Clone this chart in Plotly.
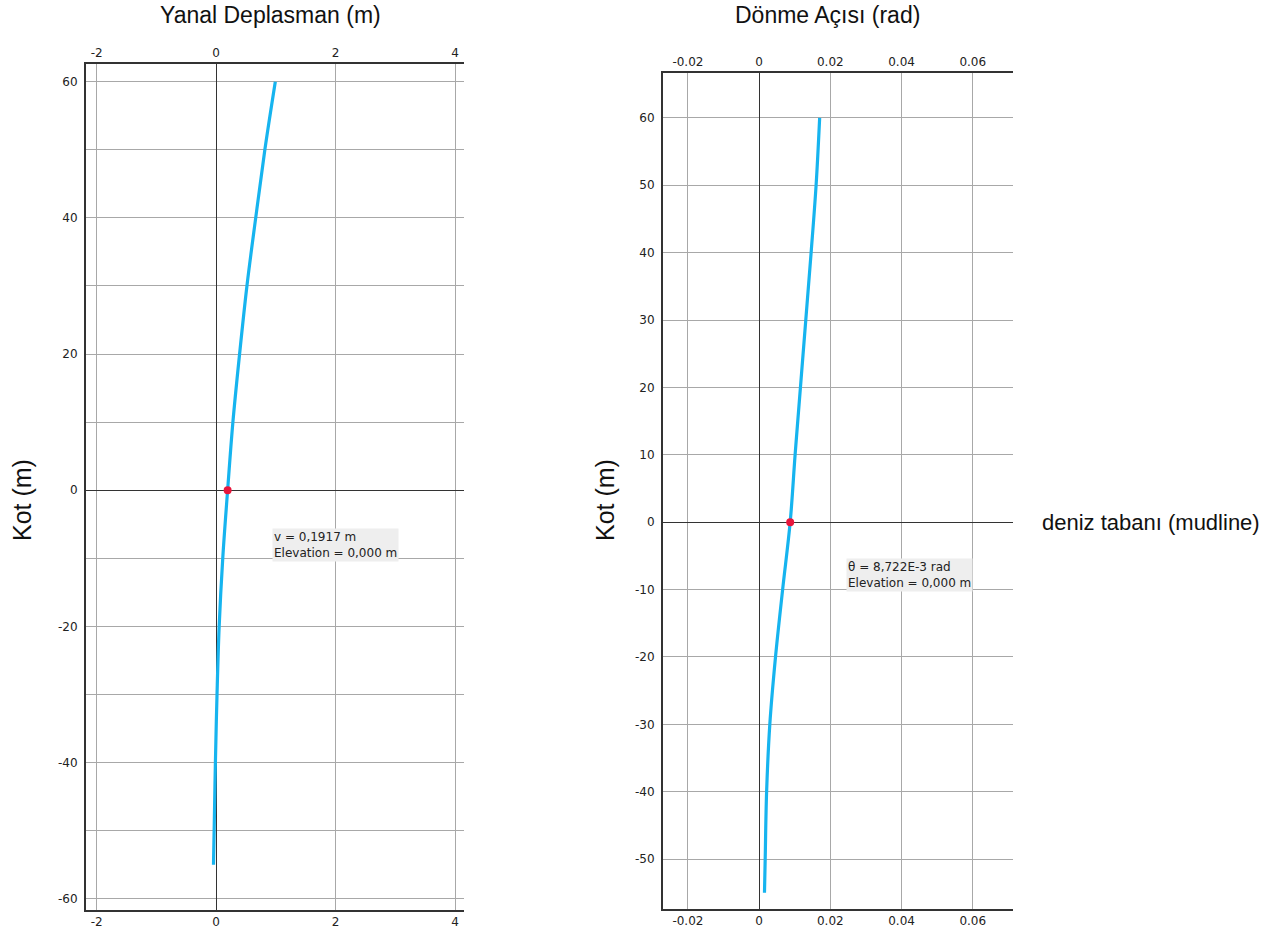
import plotly.graph_objects as go

# ---- data ----
elev_disp = [60, 50, 40, 30, 20, 10, 0, -10, -20, -30, -40, -50, -55]
disp = [0.99, 0.815, 0.662, 0.515, 0.392, 0.28, 0.1917, 0.11, 0.05, 0.014, -0.013, -0.034, -0.045]

elev_rot = [60, 50, 40, 30, 20, 10, 0, -10, -20, -30, -40, -50, -55]
rot = [0.0170, 0.0160, 0.0146, 0.0131, 0.0116, 0.0101, 0.00872, 0.0066, 0.0046, 0.0030, 0.0021, 0.0017, 0.0015]

mud_disp = 0.1917
mud_rot = 0.00872
mud_elev = 0.0

disp_tickvals = [-2, 0, 2, 4]
disp_ticktext = ["-2", "0", "2", "4"]
rot_tickvals = [-0.02, 0, 0.02, 0.04, 0.06]
rot_ticktext = ["-0.02", "0", "0.02", "0.04", "0.06"]
elevL_tickvals = [-60, -50, -40, -30, -20, -10, 0, 10, 20, 30, 40, 50, 60]
elevL_ticktext = ["-60", "", "-40", "", "-20", "", "0", "", "20", "", "40", "", "60"]
elevR_tickvals = [-50, -40, -30, -20, -10, 0, 10, 20, 30, 40, 50, 60]
elevR_ticktext = ["-50", "-40", "-30", "-20", "-10", "0", "10", "20", "30", "40", "50", "60"]

title_left = "Yanal Deplasman (m)"
title_right = "Dönme Açısı (rad)"
ylab = "Kot (m)"
mudline_label = "deniz tabanı (mudline)"
ann_left = "v = 0,1917 m<br>Elevation = 0,000 m"
ann_right = "θ = 8,722E-3 rad<br>Elevation = 0,000 m"

W, H = 1267, 935
LINE = "#16b4ef"
RED = "#e8163c"
GRID = "#a8a8a8"
AXL = "#333333"
TICKF = dict(family="DejaVu Sans, Tahoma, sans-serif", size=12, color="#222")

fig = go.Figure()
fig.add_trace(go.Scatter(x=disp, y=elev_disp, mode="lines", line=dict(color=LINE, width=3.2, shape="spline"),
                         xaxis="x", yaxis="y", showlegend=False))
fig.add_trace(go.Scatter(x=[mud_disp], y=[mud_elev], mode="markers", marker=dict(color=RED, size=8),
                         xaxis="x", yaxis="y", showlegend=False))
fig.add_trace(go.Scatter(x=rot, y=elev_rot, mode="lines", line=dict(color=LINE, width=3.2, shape="spline"),
                         xaxis="x2", yaxis="y2", showlegend=False))
fig.add_trace(go.Scatter(x=[mud_rot], y=[mud_elev], mode="markers", marker=dict(color=RED, size=8),
                         xaxis="x2", yaxis="y2", showlegend=False))

xdomL = [86 / W, 464 / W]
ydomL = [1 - 910 / H, 1 - 64 / H]
xdomR = [663 / W, 1013 / W]
ydomR = [1 - 909 / H, 1 - 72.7 / H]
xrL = [-2.18, 4.15]
yrL = [-61.66, 62.6]
xrR = [-0.027, 0.0713]
yrR = [-57.4, 66.7]

common_x = dict(showgrid=True, gridcolor=GRID, gridwidth=1, zeroline=True, zerolinecolor=AXL, zerolinewidth=1,
                showline=True, linecolor=AXL, linewidth=2, ticks="", tickfont=TICKF, tickmode="array")
common_y = dict(showgrid=True, gridcolor=GRID, gridwidth=1, zeroline=True, zerolinecolor=AXL, zerolinewidth=1,
                showline=True, linecolor=AXL, linewidth=2, ticks="", tickfont=TICKF, tickmode="array",
                ticklabelstandoff=4)

fig.update_layout(
    width=W, height=H, margin=dict(l=0, r=0, t=0, b=0),
    paper_bgcolor="white", plot_bgcolor="white",
    xaxis=dict(domain=xdomL, range=xrL, anchor="y", side="bottom",
               tickvals=disp_tickvals, ticktext=disp_ticktext, **common_x),
    xaxis3=dict(domain=xdomL, range=xrL, anchor="y", side="top", overlaying="x",
                tickvals=disp_tickvals, ticktext=disp_ticktext, **{**common_x, "showgrid": False, "zeroline": False}),
    yaxis=dict(domain=ydomL, range=yrL, anchor="x",
               tickvals=elevL_tickvals, ticktext=elevL_ticktext, **common_y),
    xaxis2=dict(domain=xdomR, range=xrR, anchor="y2", side="bottom",
                tickvals=rot_tickvals, ticktext=rot_ticktext, **common_x),
    xaxis4=dict(domain=xdomR, range=xrR, anchor="y2", side="top", overlaying="x2",
                tickvals=rot_tickvals, ticktext=rot_ticktext, **{**common_x, "showgrid": False, "zeroline": False}),
    yaxis2=dict(domain=ydomR, range=yrR, anchor="x2",
                tickvals=elevR_tickvals, ticktext=elevR_ticktext, **common_y),
)
# dummy traces so the top axes render
fig.add_trace(go.Scatter(x=[None], y=[None], xaxis="x3", yaxis="y", showlegend=False))
fig.add_trace(go.Scatter(x=[None], y=[None], xaxis="x4", yaxis="y2", showlegend=False))

TITLEF = dict(family="Liberation Sans, Arial, sans-serif", size=23, color="#111")
ANNF = dict(family="DejaVu Sans, Tahoma, sans-serif", size=12, color="#222")
anns = [
    dict(text=title_left, x=270 / W, y=1 - 15 / H, xref="paper", yref="paper", showarrow=False,
         xanchor="center", yanchor="middle", font=TITLEF),
    dict(text=title_right, x=827 / W, y=1 - 15 / H, xref="paper", yref="paper", showarrow=False,
         xanchor="center", yanchor="middle", font=TITLEF),
    dict(text=ylab, x=22 / W, y=1 - 500 / H, xref="paper", yref="paper", showarrow=False,
         xanchor="center", yanchor="middle", textangle=-90, font={**TITLEF, "size": 25}),
    dict(text=ylab, x=605 / W, y=1 - 500 / H, xref="paper", yref="paper", showarrow=False,
         xanchor="center", yanchor="middle", textangle=-90, font={**TITLEF, "size": 25}),
    dict(text=mudline_label, x=1040 / W, y=1 - 522 / H, xref="paper", yref="paper", showarrow=False,
         xanchor="left", yanchor="middle", font={**TITLEF, "size": 22}),
    dict(text=ann_left, x=0.93, y=-5.6, xref="x", yref="y", showarrow=False, xanchor="left", yanchor="top",
         align="left", bgcolor="#eeeeee", borderpad=1, font=ANNF),
    dict(text=ann_right, x=0.0245, y=-5.3, xref="x2", yref="y2", showarrow=False, xanchor="left", yanchor="top",
         align="left", bgcolor="#eeeeee", borderpad=1, font=ANNF),
]
fig.update_layout(annotations=anns)

fig.write_html("out.html", config={"displayModeBar": False},
               post_script="document.body.style.margin='0';document.body.style.padding='0';document.body.style.overflow='hidden';")
